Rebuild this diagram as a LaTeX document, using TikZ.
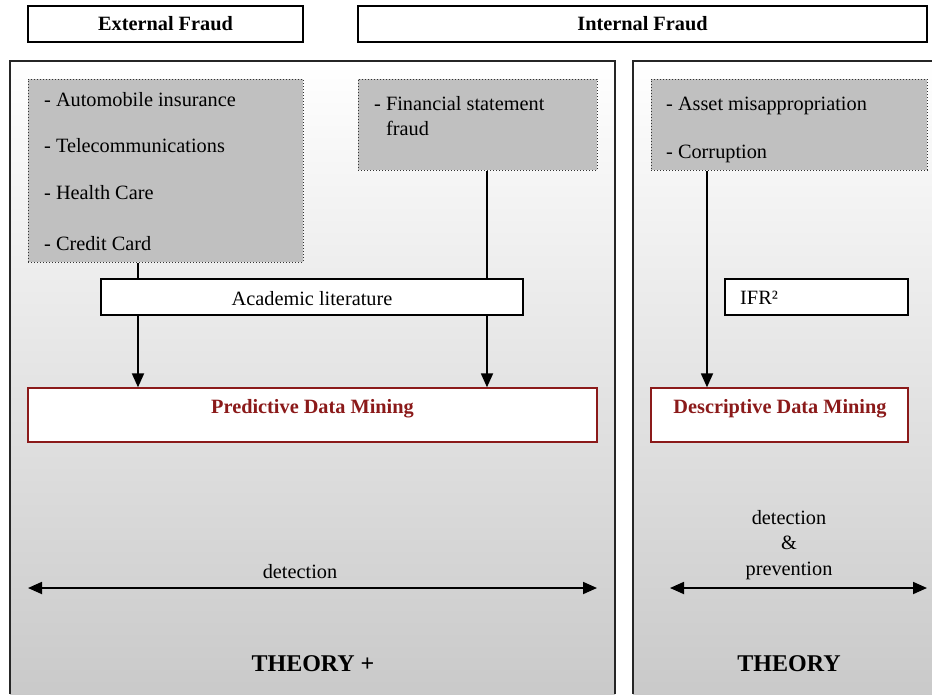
\documentclass[tikz,border=0pt]{standalone}
\usepackage{fontspec}
\setmainfont{Liberation Serif}
\usetikzlibrary{arrows.meta}
\definecolor{dmred}{HTML}{8B1A1A}
\definecolor{itemgray}{HTML}{C0C0C0}
\begin{document}
\begin{tikzpicture}[x=1pt,y=-1pt,
  every node/.style={font=\fontsize{20.3}{23}\selectfont, inner sep=0pt},
  headbox/.style={draw=black, line width=1.6pt, fill=white, font=\fontsize{20.3}{23}\selectfont\bfseries},
  itembox/.style={draw=black!80, dotted, line width=1pt, fill=itemgray},
  litbox/.style={draw=black, line width=1.3pt, fill=white},
  minebox/.style={draw=dmred, line width=1.3pt, fill=white},
  minetext/.style={text=dmred, font=\fontsize{20.3}{23}\selectfont\bfseries},
  item/.style={anchor=base west},
  flow/.style={line width=1.8pt, -{Triangle[length=14pt,width=12pt]}},
  span/.style={line width=1.8pt, {Triangle[length=14pt,width=12pt]}-{Triangle[length=14pt,width=12pt]}},
  panel/.style={draw=black!85, line width=1.8pt},
  theory/.style={font=\fontsize{24}{28}\selectfont\bfseries}]
\useasboundingbox (0,0) rectangle (932,694);
\clip (0,0) rectangle (932,694);

% two shaded panels, open at the bottom
\shade[top color=white, bottom color=black!21] (10,61) rectangle (615,694);
\shade[top color=white, bottom color=black!21] (633,61) rectangle (932,694);
\draw[panel] (10,694) -- (10,61) -- (615,61) -- (615,694);
\draw[panel] (633,694) -- (633,61) -- (932,61);

% headings
\node[headbox, minimum width=275pt, minimum height=36pt] (ext) at (165.5,24) {External Fraud};
\node[headbox, minimum width=569pt, minimum height=36pt] (int) at (642.5,24) {Internal Fraud};

% fraud categories
\node[itembox, minimum width=275pt, minimum height=183pt] (auto) at (165.5,170.5) {};
\node[itembox, minimum width=239pt, minimum height=91pt] (fin) at (477.5,124.5) {};
\node[itembox, minimum width=276pt, minimum height=91pt] (asset) at (789,124.5) {};

\node[item] (i1) at (44,106) {- Automobile insurance};
\node[item] (i2) at (44,152) {- Telecommunications};
\node[item] (i3) at (44,199) {- Health Care};
\node[item] (i4) at (44,250) {- Credit Card};
\node[item] (i5) at (374,110) {- Financial statement};
\node[item] (i6) at (386,135) {fraud};
\node[item] (i7) at (666,110) {- Asset misappropriation};
\node[item] (i8) at (666,158) {- Corruption};

% data mining targets
\node[minebox, minimum width=569pt, minimum height=54pt] (pred) at (312.5,415) {};
\node[minetext] (predt) at (312.5,409) {Predictive Data Mining};
\node[minebox, minimum width=257pt, minimum height=54pt] (desc) at (779.5,415) {};
\node[minetext] (desct) at (780,409) {Descriptive Data Mining};

% flows into the data mining boxes
\draw[flow] ([xshift=-27.5pt]auto.south) -- ([xshift=-27.5pt]auto.south |- pred.north);
\draw[flow] ([xshift=9.5pt]fin.south) -- ([xshift=9.5pt]fin.south |- pred.north);
\draw[flow] ([xshift=-82pt]asset.south) -- ([xshift=-82pt]asset.south |- desc.north);

% sources, drawn over the flows
\node[litbox, minimum width=422pt, minimum height=36pt] (acad) at (312,297) {};
\node (acadt) at (312,299) {Academic literature};
\node[litbox, minimum width=183pt, minimum height=36pt] (ifr) at (816.5,297) {};
\node[item] (ifrt) at (740,304) {IFR²};

% scope of each approach
\coordinate (dl) at (28,588);
\coordinate (dr) at (597,588);
\draw[span] (dl) -- (dr);
\node (det) at (300,572) {detection};
\coordinate (pl) at (670,588);
\coordinate (pr) at (927,588);
\draw[span] (pl) -- (pr);
\node[align=center, font=\fontsize{20.3}{25.5}\selectfont] (detprev) at (789,545) {detection\\\&\\prevention};

\node[theory] (th1) at (313,664) {THEORY +};
\node[theory] (th2) at (789,664) {THEORY};
\end{tikzpicture}
\end{document}
